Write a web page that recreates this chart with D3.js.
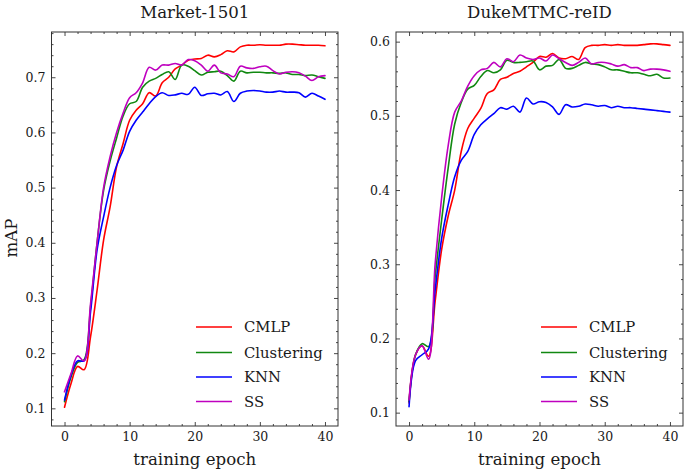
<!DOCTYPE html>
<html>
<head>
<meta charset="utf-8">
<script src="https://cdn.jsdelivr.net/npm/d3@7"></script>
<style>
  html, body { margin: 0; padding: 0; background: #fff; }
  svg { display: block; }
  text { font-family: "DejaVu Serif", serif; fill: #1a1a1a; }
</style>
</head>
<body>
<svg id="chart" width="685" height="470"></svg>
<script>
// ---------------- data ----------------
const epochs = [0,1,2,3,4,5,6,7,8,9,10,11,12,13,14,15,16,17,18,19,20,21,22,23,24,25,26,27,28,29,30,31,32,33,34,35,36,37,38,39,40];

const seriesNames = ["CMLP", "Clustering", "KNN", "SS"];
const seriesColors = ["#ff0000", "#118811", "#0000ff", "#bf00bf"];

const marketCMLP = [0.102,0.145,0.176,0.170,0.230,0.314,0.405,0.465,0.538,0.580,0.622,0.640,0.652,0.672,0.666,0.690,0.700,0.715,0.722,0.731,0.733,0.734,0.740,0.737,0.741,0.748,0.746,0.755,0.758,0.758,0.759,0.758,0.758,0.758,0.760,0.760,0.759,0.758,0.758,0.758,0.757];
const marketClustering = [0.112,0.157,0.183,0.188,0.284,0.400,0.495,0.548,0.590,0.630,0.652,0.656,0.682,0.693,0.698,0.705,0.710,0.696,0.722,0.720,0.712,0.704,0.709,0.710,0.711,0.703,0.693,0.711,0.708,0.709,0.709,0.708,0.708,0.707,0.708,0.705,0.705,0.703,0.704,0.701,0.698];
const marketKNN = [0.115,0.160,0.186,0.186,0.275,0.387,0.447,0.500,0.540,0.568,0.602,0.622,0.637,0.652,0.665,0.672,0.667,0.668,0.671,0.669,0.682,0.667,0.670,0.671,0.668,0.674,0.656,0.671,0.675,0.676,0.675,0.673,0.673,0.675,0.673,0.673,0.672,0.664,0.671,0.666,0.660];
const marketSS = [0.130,0.163,0.195,0.186,0.290,0.400,0.500,0.556,0.600,0.635,0.663,0.672,0.690,0.718,0.713,0.722,0.722,0.725,0.722,0.732,0.730,0.722,0.711,0.722,0.708,0.706,0.701,0.720,0.717,0.716,0.719,0.720,0.712,0.706,0.709,0.710,0.708,0.702,0.694,0.701,0.703];

const dukeCMLP = [0.113,0.178,0.190,0.176,0.250,0.320,0.365,0.400,0.452,0.483,0.497,0.510,0.530,0.535,0.549,0.552,0.557,0.560,0.566,0.572,0.580,0.579,0.584,0.578,0.577,0.580,0.576,0.592,0.595,0.595,0.596,0.595,0.596,0.595,0.595,0.595,0.596,0.597,0.597,0.596,0.595];
const dukeClustering = [0.115,0.178,0.193,0.189,0.283,0.360,0.430,0.489,0.518,0.536,0.541,0.553,0.561,0.558,0.562,0.575,0.572,0.572,0.573,0.574,0.562,0.567,0.568,0.576,0.564,0.564,0.568,0.572,0.570,0.569,0.566,0.562,0.562,0.560,0.558,0.558,0.556,0.554,0.556,0.551,0.551];
const dukeKNN = [0.108,0.170,0.178,0.186,0.265,0.335,0.380,0.418,0.440,0.452,0.475,0.488,0.496,0.503,0.511,0.509,0.513,0.505,0.524,0.516,0.519,0.518,0.512,0.502,0.515,0.512,0.513,0.516,0.515,0.513,0.514,0.511,0.513,0.511,0.511,0.510,0.509,0.508,0.507,0.506,0.505];
const dukeSS = [0.117,0.178,0.190,0.172,0.300,0.390,0.460,0.505,0.520,0.540,0.554,0.562,0.564,0.572,0.566,0.577,0.573,0.582,0.578,0.576,0.578,0.574,0.582,0.577,0.572,0.568,0.572,0.578,0.570,0.572,0.572,0.570,0.567,0.569,0.565,0.565,0.561,0.563,0.563,0.562,0.560];

const xTicks = [0, 10, 20, 30, 40];
const xTickLabels = ["0", "10", "20", "30", "40"];
const marketYTicks = [0.1, 0.2, 0.3, 0.4, 0.5, 0.6, 0.7];
const marketYTickLabels = ["0.1", "0.2", "0.3", "0.4", "0.5", "0.6", "0.7"];
const dukeYTicks = [0.1, 0.2, 0.3, 0.4, 0.5, 0.6];
const dukeYTickLabels = ["0.1", "0.2", "0.3", "0.4", "0.5", "0.6"];

const titles = ["Market-1501", "DukeMTMC-reID"];
const xLabel = "training epoch";
const yLabel = "mAP";

// ---------------- layout ----------------
const svg = d3.select("#chart");
const plotTop = 32, plotBottom = 426;

const panels = [
  { title: titles[0], left: 51.5, right: 338, yDomain: [0.068, 0.782],
    yTicks: marketYTicks, yLabels: marketYTickLabels,
    data: [marketCMLP, marketClustering, marketKNN, marketSS], ylabel: true },
  { title: titles[1], left: 396, right: 683, yDomain: [0.082, 0.613],
    yTicks: dukeYTicks, yLabels: dukeYTickLabels,
    data: [dukeCMLP, dukeClustering, dukeKNN, dukeSS], ylabel: false }
];

function minorTicks(lo, hi, step, majors) {
  const out = [];
  const n = Math.round((hi - lo) / step);
  for (let i = 0; i <= n; i++) {
    const v = +(lo + i * step).toFixed(6);
    if (!majors.some(m => Math.abs(m - v) < 1e-9)) out.push(v);
  }
  return out;
}

panels.forEach(p => {
  const x = d3.scaleLinear().domain([-2, 42]).range([p.left, p.right]);
  const y = d3.scaleLinear().domain(p.yDomain).range([plotBottom, plotTop]);
  const g = svg.append("g");

  // lines
  const line = d3.line()
    .x((d, i) => x(epochs[i]))
    .y(d => y(d))
    .curve(d3.curveCatmullRom.alpha(0.5));
  p.data.forEach((vals, k) => {
    g.append("path")
      .attr("d", line(vals))
      .attr("fill", "none")
      .attr("stroke", seriesColors[k])
      .attr("stroke-width", 1.6)
      .attr("stroke-linejoin", "round")
      .attr("stroke-linecap", "round");
  });

  const xMinor = minorTicks(0, 40, 2, xTicks);
  const yMinor = minorTicks(0.08, p.yDomain[1], 0.02, p.yTicks).filter(v => v > p.yDomain[0] && v < p.yDomain[1]);

  const fmt = (ticks, labels) => (d => labels[ticks.indexOf(d)]);

  // bottom
  g.append("g").attr("transform", `translate(0,${plotBottom})`)
    .call(d3.axisBottom(x).tickValues(xTicks).tickFormat(fmt(xTicks, xTickLabels)).tickSize(-4).tickPadding(6));
  g.append("g").attr("transform", `translate(0,${plotBottom})`)
    .call(d3.axisBottom(x).tickValues(xMinor).tickFormat("").tickSize(-2));
  // top
  g.append("g").attr("transform", `translate(0,${plotTop})`)
    .call(d3.axisTop(x).tickValues(xTicks).tickFormat("").tickSize(-4));
  g.append("g").attr("transform", `translate(0,${plotTop})`)
    .call(d3.axisTop(x).tickValues(xMinor).tickFormat("").tickSize(-2));
  // left
  g.append("g").attr("transform", `translate(${p.left},0)`)
    .call(d3.axisLeft(y).tickValues(p.yTicks).tickFormat(fmt(p.yTicks, p.yLabels)).tickSize(-4).tickPadding(6));
  g.append("g").attr("transform", `translate(${p.left},0)`)
    .call(d3.axisLeft(y).tickValues(yMinor).tickFormat("").tickSize(-2));
  // right
  g.append("g").attr("transform", `translate(${p.right},0)`)
    .call(d3.axisRight(y).tickValues(p.yTicks).tickFormat("").tickSize(-4));
  g.append("g").attr("transform", `translate(${p.right},0)`)
    .call(d3.axisRight(y).tickValues(yMinor).tickFormat("").tickSize(-2));

  g.selectAll(".domain").remove();
  g.selectAll(".tick line").attr("stroke", "#333").attr("stroke-width", 0.9);
  g.selectAll(".tick text").attr("font-family", "DejaVu Serif").attr("font-size", 12.5).attr("fill", "#1a1a1a");

  // frame
  g.append("rect")
    .attr("x", p.left).attr("y", plotTop)
    .attr("width", p.right - p.left).attr("height", plotBottom - plotTop)
    .attr("fill", "none").attr("stroke", "#333").attr("stroke-width", 1);

  // title
  g.append("text")
    .attr("x", (p.left + p.right) / 2).attr("y", 18)
    .attr("text-anchor", "middle").attr("font-size", 16.6)
    .text(p.title);

  // x label
  g.append("text")
    .attr("x", (p.left + p.right) / 2).attr("y", 465)
    .attr("text-anchor", "middle").attr("font-size", 16.6)
    .text(xLabel);

  if (p.ylabel) {
    g.append("text")
      .attr("transform", `translate(17,238) rotate(-90)`)
      .attr("text-anchor", "middle").attr("font-size", 16.6)
      .text(yLabel);
  }

  // legend
  const rows = [327, 352.5, 377, 401.5];
  seriesNames.forEach((name, k) => {
    g.append("line")
      .attr("x1", p.right - 142).attr("x2", p.right - 106)
      .attr("y1", rows[k]).attr("y2", rows[k])
      .attr("stroke", seriesColors[k]).attr("stroke-width", 1.6);
    g.append("text")
      .attr("x", p.right - 94).attr("y", rows[k])
      .attr("dy", "0.35em").attr("font-size", 14.8)
      .text(name);
  });
});
</script>
</body>
</html>
